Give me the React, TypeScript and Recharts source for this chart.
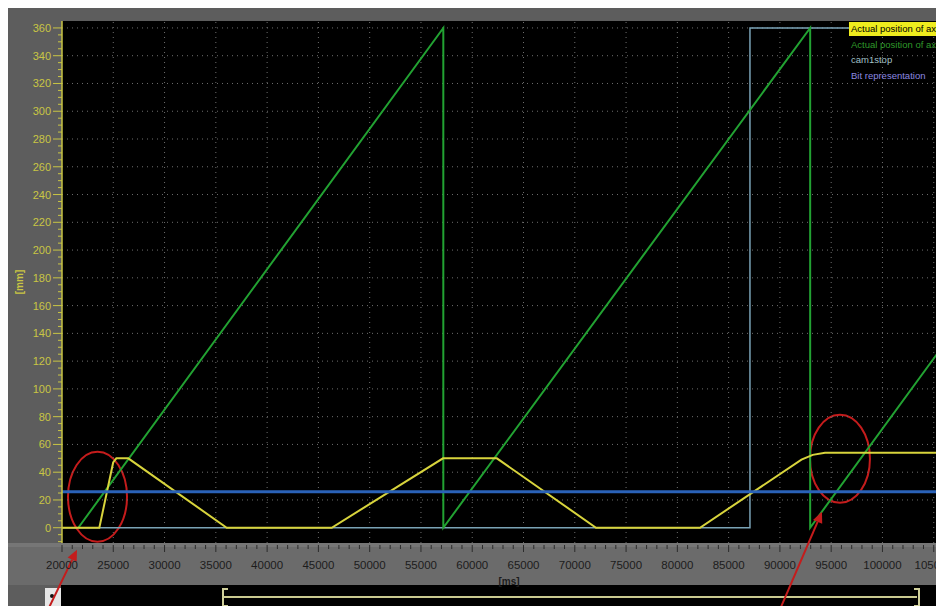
import React from 'react';
import {
  ComposedChart,
  Line,
  XAxis,
  YAxis,
  CartesianGrid,
  ReferenceLine,
  ReferenceArea,
  Legend,
} from 'recharts';

// ---------- data ----------
const X_DOMAIN: [number, number] = [20000, 106000];
const Y_DOMAIN: [number, number] = [-11, 365];

const X_MAJOR = [20000, 25000, 30000, 35000, 40000, 45000, 50000, 55000, 60000, 65000, 70000, 75000, 80000, 85000, 90000, 95000, 100000, 105000];
const Y_MAJOR = [0, 20, 40, 60, 80, 100, 120, 140, 160, 180, 200, 220, 240, 260, 280, 300, 320, 340, 360];

const X_TICKS: number[] = [];
for (let t = 20000; t <= 106000; t += 1000) X_TICKS.push(t);
const Y_TICKS: number[] = [];
for (let v = -10; v <= 360; v += 5) Y_TICKS.push(v);

const NAME_AXIS1 = 'Actual position of axis_1 [mm]';
const NAME_AXIS2 = 'Actual position of axis_2 [mm]';
const NAME_CAM = 'cam1stop';
const NAME_BIT = 'Bit representation';

const axis1Pos = [
  { t: 20000, v: 0 },
  { t: 23640, v: 0 },
  { t: 24990, v: 47 },
  { t: 25300, v: 50 },
  { t: 26460, v: 50 },
  { t: 36060, v: 0 },
  { t: 46300, v: 0 },
  { t: 57150, v: 50 },
  { t: 62400, v: 50 },
  { t: 72070, v: 0 },
  { t: 82210, v: 0 },
  { t: 92100, v: 49 },
  { t: 93200, v: 52.5 },
  { t: 94400, v: 54 },
  { t: 106000, v: 54 },
];

const axis2Pos = [
  { t: 21590, v: 0 },
  { t: 57180, v: 360 },
  { t: 57180, v: 0 },
  { t: 92950, v: 360 },
  { t: 92950, v: 0 },
  { t: 106000, v: 132 },
];

const cam1stop = [
  { t: 20000, v: 0 },
  { t: 87080, v: 0 },
  { t: 87080, v: 360 },
  { t: 106000, v: 360 },
];

const bitRepresentation = [
  { t: 20000, v: 26 },
  { t: 106000, v: 26 },
];

const LEGEND_ORDER = [NAME_AXIS1, NAME_AXIS2, NAME_CAM, NAME_BIT];
const LEGEND_TEXT_COLORS = ['#000000', '#2f9a2a', '#a2c0c8', '#8c88e0'];

// annotation regions (data coords)
const ELLIPSES = [
  { x1: 20585, x2: 26340, y1: -10.1, y2: 54.7 },
  { x1: 92930, x2: 98780, y1: 18, y2: 81.4 },
];
const ARROWS = [
  [{ x: 18540, y: -60.5 }, { x: 21460, y: -15.8 }],
  [{ x: 89910, y: -60.5 }, { x: 94100, y: 11.5 }],
];

// ---------- styles ----------
const FONT = 'Liberation Sans, Arial, sans-serif';
const YELLOW_AXIS = '#c9c544';
const C_AXIS1 = '#d8d43c';
const C_AXIS2 = '#22a232';
const C_CAM = '#7aa3b6';
const C_BIT = '#2a62b8';
const C_RED = '#c41c1c';

const YTick = (props: any) => {
  const { x, y, payload } = props;
  const v = payload.value;
  const major = v >= 0 && v % 20 === 0;
  return (
    <g>
      <line x1={x - (major ? 9 : 4)} x2={x} y1={y} y2={y} stroke={YELLOW_AXIS} strokeWidth={1} />
      {major && (
        <text x={x - 11} y={y} dy={4} textAnchor="end" fill={YELLOW_AXIS} fontSize={11} fontFamily={FONT}>
          {v}
        </text>
      )}
    </g>
  );
};

const XTick = (props: any) => {
  const { x, y, payload } = props;
  const v = payload.value;
  const major = v % 5000 === 0;
  return (
    <g>
      <line x1={x} x2={x} y1={y + 2} y2={y + (major ? 9 : 6)} stroke="#2c2c2c" strokeWidth={1} />
      {major && (
        <text x={x} y={y + 26} textAnchor="middle" fill="#1c1c1c" fontSize={11.5} fontFamily={FONT}>
          {v}
        </text>
      )}
    </g>
  );
};

const LegendContent = (props: any) => {
  const payload: any[] = props.payload || [];
  const items = LEGEND_ORDER.map((n) => payload.find((p) => p.value === n)).filter(Boolean);
  return (
    <div style={{ fontFamily: FONT, fontSize: 9.5 }}>
      {items.map((p: any) => {
        const idx = LEGEND_ORDER.indexOf(p.value);
        return (
          <div
            key={p.value}
            style={{
              height: 14,
              marginBottom: 1.5,
              lineHeight: '14px',
              whiteSpace: 'nowrap',
              paddingLeft: 2,
              color: LEGEND_TEXT_COLORS[idx],
              background: idx === 0 ? '#eeec1e' : 'transparent',
            }}
          >
            {p.value}
          </div>
        );
      })}
    </div>
  );
};

const EllipseShape = (props: any) => {
  const { x, y, width, height } = props;
  return (
    <ellipse
      cx={x + width / 2}
      cy={y + height / 2}
      rx={Math.abs(width) / 2}
      ry={Math.abs(height) / 2}
      fill="none"
      stroke={C_RED}
      strokeWidth={2}
    />
  );
};

const ArrowShape = (props: any) => {
  const { x1, y1, x2, y2 } = props;
  const ang = Math.atan2(y2 - y1, x2 - x1);
  const L = 11;
  const W = 5;
  const bx = x2 - L * Math.cos(ang);
  const by = y2 - L * Math.sin(ang);
  const px = -Math.sin(ang) * W;
  const py = Math.cos(ang) * W;
  return (
    <g>
      <line x1={x1} y1={y1} x2={bx} y2={by} stroke={C_RED} strokeWidth={2} />
      <polygon points={`${x2},${y2} ${bx + px},${by + py} ${bx - px},${by - py}`} fill={C_RED} />
    </g>
  );
};

export default function App() {
  return (
    <div
      style={{
        position: 'relative',
        width: 936,
        height: 598,
        overflow: 'hidden',
        background: '#5d5d5d',
      }}
    >
      {/* x-axis strip */}
      <div style={{ position: 'absolute', left: 0, top: 535, width: 936, height: 42, background: '#6b6b6b' }} />
      <div style={{ position: 'absolute', left: 0, top: 535, width: 936, height: 4, background: '#767676' }} />
      {/* bottom scroll strip */}
      <div style={{ position: 'absolute', left: 53, top: 577, width: 883, height: 21, background: '#000' }} />
      <div style={{ position: 'absolute', left: 37, top: 580, width: 16, height: 18, background: '#e6e6e6' }} />
      <div style={{ position: 'absolute', left: 42, top: 586, width: 4, height: 4, borderRadius: 2, background: '#111' }} />
      <div style={{ position: 'absolute', left: 214, top: 580, width: 4, height: 15, border: '2px solid #cfcf9a', borderRight: 'none' }} />
      <div style={{ position: 'absolute', left: 216, top: 588, width: 693, height: 2, background: '#c9c98f' }} />
      <div style={{ position: 'absolute', left: 906, top: 580, width: 4, height: 15, border: '2px solid #cfcf9a', borderLeft: 'none' }} />

      <ComposedChart
        width={936}
        height={598}
        margin={{ top: 13, right: 0, left: 0, bottom: 21 }}
        style={{ position: 'absolute', left: 0, top: 0 }}
      >
        <CartesianGrid fill="#000" horizontal={false} vertical={false} />
        <XAxis
          dataKey="t"
          type="number"
          domain={X_DOMAIN}
          allowDataOverflow
          ticks={X_TICKS}
          interval={0}
          tick={<XTick />}
          tickLine={false}
          tickSize={0}
          tickMargin={0}
          axisLine={false}
          height={42}
          label={{ value: '[ms]', position: 'insideBottom', offset: 0, dx: 6, fill: '#1c1c1c', fontSize: 10, fontWeight: 'bold', fontFamily: FONT }}
        />
        <YAxis
          type="number"
          domain={Y_DOMAIN}
          allowDataOverflow
          ticks={Y_TICKS}
          interval={0}
          tick={<YTick />}
          tickLine={false}
          tickSize={0}
          tickMargin={0}
          width={54}
          axisLine={{ stroke: YELLOW_AXIS, strokeWidth: 1.5 }}
          label={{
            value: '[mm]',
            angle: -90,
            position: 'insideLeft',
            offset: 11,
            fill: YELLOW_AXIS,
            fontSize: 10,
            fontWeight: 'bold',
            fontFamily: FONT,
            style: { textAnchor: 'middle' },
          }}
        />
        {Y_MAJOR.filter((v) => v > 0).map((v) => (
          <ReferenceLine key={'gy' + v} y={v} stroke="#6e6e6e" strokeDasharray="1 4" strokeWidth={1} />
        ))}
        {X_MAJOR.filter((t) => t > X_DOMAIN[0]).map((t) => (
          <ReferenceLine key={'gx' + t} x={t} stroke="#6e6e6e" strokeDasharray="1 4" strokeWidth={1} />
        ))}
        <Line data={cam1stop} dataKey="v" name={NAME_CAM} type="linear" stroke={C_CAM} strokeWidth={1.5} dot={false} activeDot={false} isAnimationActive={false} />
        <Line data={axis2Pos} dataKey="v" name={NAME_AXIS2} type="linear" stroke={C_AXIS2} strokeWidth={2} dot={false} activeDot={false} isAnimationActive={false} />
        <Line data={axis1Pos} dataKey="v" name={NAME_AXIS1} type="linear" stroke={C_AXIS1} strokeWidth={2} dot={false} activeDot={false} isAnimationActive={false} />
        <Line data={bitRepresentation} dataKey="v" name={NAME_BIT} type="linear" stroke={C_BIT} strokeWidth={3} dot={false} activeDot={false} isAnimationActive={false} />
        {ELLIPSES.map((e, i) => (
          <ReferenceArea key={'el' + i} x1={e.x1} x2={e.x2} y1={e.y1} y2={e.y2} ifOverflow="visible" shape={EllipseShape} />
        ))}
        {ARROWS.map((a, i) => (
          <ReferenceLine key={'ar' + i} segment={a} ifOverflow="visible" shape={ArrowShape} />
        ))}
        <Legend
          layout="vertical"
          align="center"
          verticalAlign="middle"
          content={<LegendContent />}
          wrapperStyle={{ position: 'absolute', left: 841, top: 14, width: 200, height: 62 }}
        />
      </ComposedChart>
    </div>
  );
}
